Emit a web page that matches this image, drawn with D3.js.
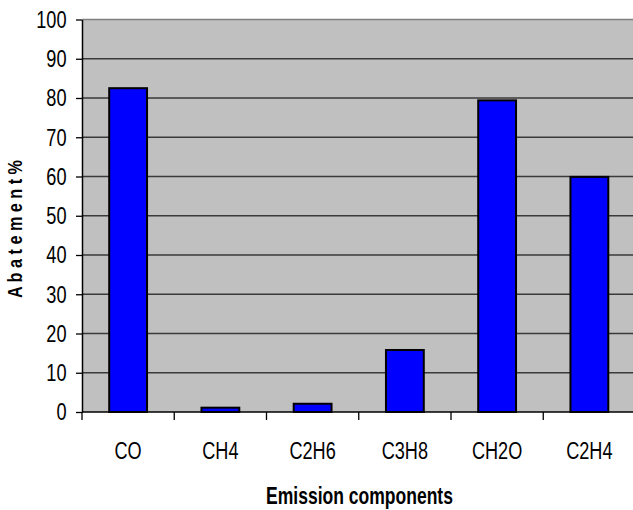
<!DOCTYPE html>
<html>
<head>
<meta charset="utf-8">
<script src="https://cdn.jsdelivr.net/npm/d3@7"></script>
<style>
  html, body { margin: 0; padding: 0; background: #fff; }
  svg { display: block; }
  text { font-family: "Liberation Sans", Arial, sans-serif; fill: #000; white-space: pre; }
</style>
</head>
<body>
<svg id="chart" width="633" height="510"></svg>
<script>
// Abatement of each emission component (%)
const categories = ["CO", "CH4", "C2H6", "C3H8", "CH2O", "C2H4"];
const abatement = [82.5, 1.1, 2.1, 15.8, 79.4, 59.9];
const yTicks = [0, 10, 20, 30, 40, 50, 60, 70, 80, 90, 100];
const xTitle = "Emission components";
const yTitle = "A b a t e m e n t %";

const svg = d3.select("#chart");
const plot = { left: 82, top: 19.5, right: 635.5, bottom: 412 };

const x = d3.scaleBand().domain(categories).range([plot.left, plot.right]).padding(0);
const y = d3.scaleLinear().domain([0, 100]).range([plot.bottom, plot.top]);

// condensed-looking text: horizontal squeeze of the glyphs
function narrowText(g, tx, ty, str, size, sx, opts = {}) {
  return g.append("text")
    .attr("transform", `translate(${tx},${ty})${opts.rotate ? " rotate(" + opts.rotate + ")" : ""} scale(${sx},1)`)
    .attr("text-anchor", opts.anchor || "middle")
    .attr("dy", opts.dy || null)
    .style("font-size", size + "px")
    .style("font-weight", opts.bold ? "bold" : "normal")
    .text(str);
}

// plot area background
svg.append("rect")
  .attr("x", plot.left).attr("y", plot.top)
  .attr("width", plot.right - plot.left).attr("height", plot.bottom - plot.top)
  .attr("fill", "#c0c0c0");

// horizontal gridlines
svg.append("g").selectAll("line")
  .data(yTicks.filter(d => d > 0))
  .join("line")
  .attr("x1", plot.left).attr("x2", plot.right)
  .attr("y1", d => y(d)).attr("y2", d => y(d))
  .attr("stroke", d => d === 100 ? "#808080" : "#3a3a3a")
  .attr("stroke-width", 1.6);

// bars
const barW = x.bandwidth() * 0.41;
svg.append("g").selectAll("rect")
  .data(categories.map((c, i) => ({ c, v: abatement[i] })))
  .join("rect")
  .attr("x", d => x(d.c) + (x.bandwidth() - barW) / 2)
  .attr("y", d => y(d.v))
  .attr("width", barW)
  .attr("height", d => y(0) - y(d.v))
  .attr("fill", "#0000ff")
  .attr("stroke", "#000")
  .attr("stroke-width", 2);

// y axis
const yAxis = svg.append("g")
  .attr("transform", `translate(${plot.left},0)`)
  .call(d3.axisLeft(y).tickValues(yTicks).tickSize(6).tickFormat("").tickSizeOuter(0));
yAxis.select(".domain").attr("stroke", "#000").attr("stroke-width", 1.5);
yAxis.selectAll(".tick line").attr("stroke", "#000").attr("stroke-width", 1.3);
const yLabels = svg.append("g");
yTicks.forEach(t => narrowText(yLabels, plot.left - 15.5, y(t), String(t), 23, 0.79, { anchor: "end", dy: "0.36em" }));

// x axis: ticks at category boundaries
const xAxisG = svg.append("g");
xAxisG.append("line")
  .attr("x1", plot.left).attr("x2", plot.right)
  .attr("y1", plot.bottom).attr("y2", plot.bottom)
  .attr("stroke", "#000").attr("stroke-width", 1.5);
xAxisG.selectAll("line.tick")
  .data(categories)
  .join("line")
  .attr("class", "tick")
  .attr("x1", d => x(d)).attr("x2", d => x(d))
  .attr("y1", plot.bottom).attr("y2", plot.bottom + 8)
  .attr("stroke", "#000").attr("stroke-width", 1.3);
categories.forEach(c => narrowText(xAxisG, x(c) + x.bandwidth() / 2, 459, c, 24.5, 0.74));

// axis titles
narrowText(svg, 359.5, 503.5, xTitle, 24, 0.73, { bold: true });
narrowText(svg, 22, 229, yTitle, 20.5, 0.79, { bold: true, rotate: -90 });
</script>
</body>
</html>
